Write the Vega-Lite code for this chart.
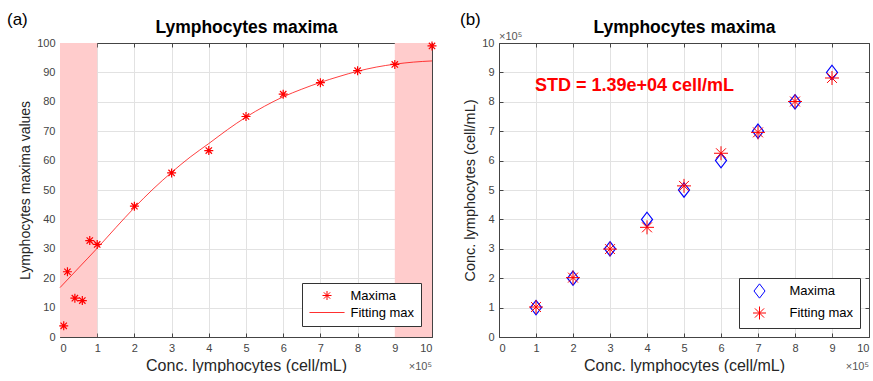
{
  "$schema": "https://vega.github.io/schema/vega-lite/v6.json",
  "padding": {"left": 7, "top": 10, "right": 0, "bottom": 0},
  "background": "white",
  "bounds": "flush",
  "spacing": 67,
  "datasets": {
    "maxima": [
      {"conc": 10000, "value": 3.8, "series": "Maxima"},
      {"conc": 20000, "value": 22.2, "series": "Maxima"},
      {"conc": 40000, "value": 13.2, "series": "Maxima"},
      {"conc": 60000, "value": 12.4, "series": "Maxima"},
      {"conc": 80000, "value": 32.8, "series": "Maxima"},
      {"conc": 100000, "value": 31.5, "series": "Maxima"},
      {"conc": 200000, "value": 44.5, "series": "Maxima"},
      {"conc": 300000, "value": 55.8, "series": "Maxima"},
      {"conc": 400000, "value": 63.4, "series": "Maxima"},
      {"conc": 500000, "value": 75.0, "series": "Maxima"},
      {"conc": 600000, "value": 82.6, "series": "Maxima"},
      {"conc": 700000, "value": 86.5, "series": "Maxima"},
      {"conc": 800000, "value": 90.6, "series": "Maxima"},
      {"conc": 900000, "value": 92.7, "series": "Maxima"},
      {"conc": 1000000, "value": 99.0, "series": "Maxima"}
    ],
    "fit": [
      {"conc": 0, "value": 16.8},
      {"conc": 50000, "value": 23.5},
      {"conc": 100000, "value": 30.2},
      {"conc": 150000, "value": 37.2},
      {"conc": 200000, "value": 44.0},
      {"conc": 250000, "value": 50.3},
      {"conc": 300000, "value": 56.0},
      {"conc": 350000, "value": 61.2},
      {"conc": 400000, "value": 65.8},
      {"conc": 450000, "value": 70.5},
      {"conc": 500000, "value": 74.8},
      {"conc": 550000, "value": 78.5},
      {"conc": 600000, "value": 81.7},
      {"conc": 650000, "value": 84.3},
      {"conc": 700000, "value": 86.6},
      {"conc": 750000, "value": 88.6},
      {"conc": 800000, "value": 90.4},
      {"conc": 850000, "value": 91.8},
      {"conc": 900000, "value": 92.8},
      {"conc": 950000, "value": 93.5},
      {"conc": 1000000, "value": 93.9}
    ],
    "bands": [
      {"start": 0, "end": 100000},
      {"start": 900000, "end": 1000000}
    ],
    "compare": [
      {"conc": 100000, "value": 100000, "series": "Maxima"},
      {"conc": 200000, "value": 200000, "series": "Maxima"},
      {"conc": 300000, "value": 300000, "series": "Maxima"},
      {"conc": 400000, "value": 400000, "series": "Maxima"},
      {"conc": 500000, "value": 500000, "series": "Maxima"},
      {"conc": 600000, "value": 600000, "series": "Maxima"},
      {"conc": 700000, "value": 700000, "series": "Maxima"},
      {"conc": 800000, "value": 800000, "series": "Maxima"},
      {"conc": 900000, "value": 900000, "series": "Maxima"},
      {"conc": 100000, "value": 102000, "series": "Fitting max"},
      {"conc": 200000, "value": 202000, "series": "Fitting max"},
      {"conc": 300000, "value": 299000, "series": "Fitting max"},
      {"conc": 400000, "value": 373000, "series": "Fitting max"},
      {"conc": 500000, "value": 514000, "series": "Fitting max"},
      {"conc": 600000, "value": 625000, "series": "Fitting max"},
      {"conc": 700000, "value": 696000, "series": "Fitting max"},
      {"conc": 800000, "value": 801000, "series": "Fitting max"},
      {"conc": 900000, "value": 881000, "series": "Fitting max"}
    ]
  },
  "hconcat": [
    {
      "width": 372,
      "height": 294,
      "title": {"text": "(a)", "anchor": "start", "frame": "group", "fontSize": 17, "fontWeight": "normal", "color": "black", "dx": -53, "offset": -10},
      "layer": [
        {
          "data": {"name": "bands"},
          "mark": {"type": "rect", "color": "#ffcccc", "opacity": 1},
          "encoding": {
            "x": {"field": "start", "type": "quantitative", "scale": {"domain": [0, 1000000], "nice": false, "zero": false}, "axis": null},
            "x2": {"field": "end"},
            "y": {"datum": 0, "type": "quantitative", "scale": {"domain": [0, 100], "nice": false}, "axis": null},
            "y2": {"datum": 100}
          }
        },
        {
          "data": {"name": "maxima"},
          "mark": {"type": "point", "filled": false, "strokeWidth": 1.2, "opacity": 1},
          "encoding": {
            "x": {"field": "conc", "type": "quantitative", "scale": {"domain": [0, 1000000], "nice": false, "zero": false},
              "axis": {"orient": "bottom", "grid": true, "tickCount": 10, "labelExpr": "format(datum.value / 100000, 'd')", "title": "Conc. lymphocytes (cell/mL)"}},
            "y": {"field": "value", "type": "quantitative", "scale": {"domain": [0, 100], "nice": false},
              "axis": {"orient": "left", "grid": true, "tickCount": 10, "title": "Lymphocytes maxima values", "titleFontSize": 14}},
            "color": {"field": "series", "type": "nominal", "scale": {"domain": ["Maxima", "Fitting max"], "range": ["#ff0000", "#ff3030"]},
              "legend": {"title": null, "symbolSize": 81, "symbolOffset": 12.5, "labelOffset": 17, "offset": 11}},
            "shape": {"field": "series", "type": "nominal", "scale": {"domain": ["Maxima", "Fitting max"], "range": ["M-1,0H1M0,-1V1M-0.707,-0.707L0.707,0.707M-0.707,0.707L0.707,-0.707", "M-3.9,0H3.9"]},
              "legend": {"title": null, "symbolSize": 81, "symbolOffset": 12.5, "labelOffset": 17, "offset": 11}},
            "size": {"value": 81}
          }
        },
        {
          "data": {"name": "fit"},
          "mark": {"type": "line", "color": "#ff0000", "strokeWidth": 1, "opacity": 0.75, "interpolate": "monotone"},
          "encoding": {
            "x": {"field": "conc", "type": "quantitative", "scale": {"domain": [0, 1000000], "nice": false, "zero": false},
              "axis": {"orient": "top", "labels": false, "grid": false, "tickCount": 10, "title": "Lymphocytes maxima", "titleFontSize": 17.5, "titleFontWeight": "bold", "titleColor": "black", "titlePadding": 6}},
            "y": {"field": "value", "type": "quantitative", "scale": {"domain": [0, 100], "nice": false},
              "axis": {"orient": "right", "labels": false, "grid": false, "tickCount": 10, "title": null}}
          }
        },
        {
          "data": {"values": [{"label": "×10⁵"}]},
          "mark": {"type": "text", "align": "right", "baseline": "middle", "fontSize": 11, "color": "#555555"},
          "encoding": {
            "x": {"datum": 1000000, "type": "quantitative", "scale": {"domain": [0, 1000000], "nice": false, "zero": false}, "axis": null},
            "y": {"datum": -10.2, "type": "quantitative", "scale": {"domain": [0, 100], "nice": false}, "axis": null},
            "text": {"field": "label"}
          }
        }
      ],
      "resolve": {"axis": {"x": "independent", "y": "independent"}}
    },
    {
      "width": 370,
      "height": 294,
      "title": {"text": "(b)", "anchor": "start", "frame": "group", "fontSize": 17, "fontWeight": "normal", "color": "black", "dx": -39, "offset": -10},
      "layer": [
        {
          "data": {"name": "compare"},
          "transform": [{"filter": "datum.series === 'Maxima'"}],
          "mark": {"type": "point", "filled": false, "strokeWidth": 1.2, "opacity": 1, "size": 169},
          "encoding": {
            "x": {"field": "conc", "type": "quantitative", "scale": {"domain": [0, 1000000], "nice": false, "zero": false},
              "axis": {"orient": "bottom", "grid": true, "tickCount": 10, "labelExpr": "format(datum.value / 100000, 'd')", "title": "Conc. lymphocytes (cell/mL)"}},
            "y": {"field": "value", "type": "quantitative", "scale": {"domain": [0, 1000000], "nice": false},
              "axis": {"orient": "left", "grid": true, "tickCount": 10, "labelExpr": "format(datum.value / 100000, 'd')", "title": "Conc. lymphocytes (cell/mL)", "titleFontSize": 14.5}},
            "color": {"field": "series", "type": "nominal", "scale": {"domain": ["Maxima", "Fitting max"], "range": ["#0000ff", "#ff0000"]},
              "legend": {"title": null, "symbolSize": 169, "symbolOffset": 7.5, "labelOffset": 23, "offset": 9}},
            "shape": {"field": "series", "type": "nominal", "scale": {"domain": ["Maxima", "Fitting max"], "range": ["M0,-1.1L0.85,0L0,1.1L-0.85,0Z", "M-1,0H1M0,-1V1M-0.707,-0.707L0.707,0.707M-0.707,0.707L0.707,-0.707"]},
              "legend": {"title": null, "symbolSize": 169, "symbolOffset": 7.5, "labelOffset": 23, "offset": 9}}
          }
        },
        {
          "data": {"name": "compare"},
          "transform": [{"filter": "datum.series === 'Fitting max'"}],
          "mark": {"type": "point", "filled": false, "strokeWidth": 1, "opacity": 1, "size": 196},
          "encoding": {
            "x": {"field": "conc", "type": "quantitative", "scale": {"domain": [0, 1000000], "nice": false, "zero": false},
              "axis": {"orient": "top", "labels": false, "grid": false, "tickCount": 10, "title": "Lymphocytes maxima", "titleFontSize": 17.5, "titleFontWeight": "bold", "titleColor": "black", "titlePadding": 6}},
            "y": {"field": "value", "type": "quantitative", "scale": {"domain": [0, 1000000], "nice": false},
              "axis": {"orient": "right", "labels": false, "grid": false, "tickCount": 10, "title": null}},
            "color": {"field": "series", "type": "nominal"},
            "shape": {"field": "series", "type": "nominal"}
          }
        },
        {
          "data": {"values": [{"label": "STD = 1.39e+04 cell/mL"}]},
          "mark": {"type": "text", "align": "left", "baseline": "middle", "fontSize": 18, "fontWeight": "bold", "color": "#ff0000"},
          "encoding": {
            "x": {"datum": 97000, "type": "quantitative", "scale": {"domain": [0, 1000000], "nice": false, "zero": false}, "axis": null},
            "y": {"datum": 854000, "type": "quantitative", "scale": {"domain": [0, 1000000], "nice": false}, "axis": null},
            "text": {"field": "label"}
          }
        },
        {
          "data": {"values": [{"label": "×10⁵"}]},
          "mark": {"type": "text", "align": "right", "baseline": "middle", "fontSize": 11, "color": "#555555"},
          "encoding": {
            "x": {"datum": 1000000, "type": "quantitative", "scale": {"domain": [0, 1000000], "nice": false, "zero": false}, "axis": null},
            "y": {"datum": -102000, "type": "quantitative", "scale": {"domain": [0, 1000000], "nice": false}, "axis": null},
            "text": {"field": "label"}
          }
        },
        {
          "data": {"values": [{"label": "×10⁵"}]},
          "mark": {"type": "text", "align": "left", "baseline": "middle", "fontSize": 11, "color": "#555555"},
          "encoding": {
            "x": {"datum": 0, "type": "quantitative", "scale": {"domain": [0, 1000000], "nice": false, "zero": false}, "axis": null},
            "y": {"datum": 1020000, "type": "quantitative", "scale": {"domain": [0, 1000000], "nice": false}, "axis": null},
            "text": {"field": "label"}
          }
        }
      ],
      "resolve": {"axis": {"x": "independent", "y": "independent"}}
    }
  ],
  "resolve": {"scale": {"color": "independent", "shape": "independent"}, "legend": {"color": "independent", "shape": "independent"}},
  "config": {
    "view": {"stroke": null},
    "font": "Liberation Sans",
    "axis": {
      "domainColor": "#444444",
      "domainWidth": 1,
      "tickColor": "#444444",
      "tickSize": -4,
      "labelColor": "#444444",
      "labelFontSize": 11,
      "labelPadding": 9,
      "titleFontSize": 16,
      "titleFontWeight": "normal",
      "titleColor": "#262626",
      "titlePadding": 4,
      "gridColor": "#e2e2e2",
      "gridWidth": 1
    },
    "legend": {
      "orient": "bottom-right",
      "offset": 9,
      "strokeColor": "#333333",
      "fillColor": "white",
      "padding": 6,
      "cornerRadius": 0,
      "labelFontSize": 13,
      "labelColor": "black",
      "symbolStrokeWidth": 1,
      "rowPadding": 3
    }
  }
}
